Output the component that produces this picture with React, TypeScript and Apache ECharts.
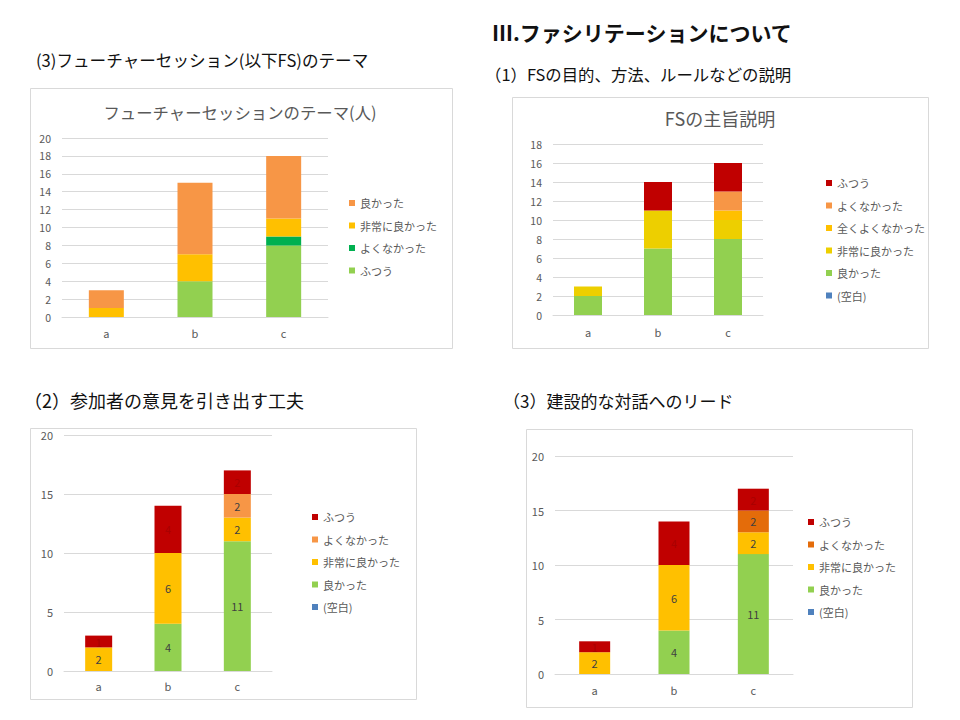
import React, { useEffect, useRef } from "react";
import * as echarts from "echarts";

const categories = ["a", "b", "c"];

// Chart 1: フューチャーセッションのテーマ(人)  (stack order bottom -> top)
const c1Names = ["ふつう", "よくなかった", "非常に良かった", "良かった"];
const c1Futsuu = [0, 4, 8];
const c1Yokunakatta = [0, 0, 1];
const c1Hijouni = [1, 3, 2];
const c1Yokatta = [2, 8, 7];
const c1Legend = ["良かった", "非常に良かった", "よくなかった", "ふつう"];
const c1Ticks = { min: 0, max: 20, interval: 2 };

// Chart 2: FSの主旨説明
const c2Names = ["(空白)", "良かった", "非常に良かった", "全くよくなかった", "よくなかった", "ふつう"];
const c2Kuuhaku = [0, 0, 0];
const c2Yokatta = [2, 7, 8];
const c2Hijouni = [1, 4, 2];
const c2Mattaku = [0, 0, 1];
const c2Yokunakatta = [0, 0, 2];
const c2Futsuu = [0, 3, 3];
const c2Legend = ["ふつう", "よくなかった", "全くよくなかった", "非常に良かった", "良かった", "(空白)"];
const c2Ticks = { min: 0, max: 18, interval: 2 };

// Chart 3 & 4: 参加者の意見を引き出す工夫 / 建設的な対話へのリード
const c34Names = ["(空白)", "良かった", "非常に良かった", "よくなかった", "ふつう"];
const c3Kuuhaku = [0, 0, 0];
const c3Yokatta = [0, 4, 11];
const c3Hijouni = [2, 6, 2];
const c3Yokunakatta = [0, 0, 2];
const c3Futsuu = [1, 4, 2];
const c4Kuuhaku = [0, 0, 0];
const c4Yokatta = [0, 4, 11];
const c4Hijouni = [2, 6, 2];
const c4Yokunakatta = [0, 0, 2];
const c4Futsuu = [1, 4, 2];
const c34Legend = ["ふつう", "よくなかった", "非常に良かった", "良かった", "(空白)"];
const c34Ticks = { min: 0, max: 20, interval: 5 };

const FONT = "'Noto Sans CJK JP', 'Noto Sans', sans-serif";
const AXIS_COLOR = "#595959";
const GRID_COLOR = "#d9d9d9";

const c1Colors: Record<string, string> = {
  "ふつう": "#92D050",
  "よくなかった": "#00B050",
  "非常に良かった": "#FFC000",
  "良かった": "#F79646",
};
const c2Colors: Record<string, string> = {
  "(空白)": "#4F81BD",
  "良かった": "#92D050",
  "非常に良かった": "#EDCF00",
  "全くよくなかった": "#FFC000",
  "よくなかった": "#F79646",
  "ふつう": "#C00000",
};
const c3Colors: Record<string, string> = {
  "(空白)": "#4F81BD",
  "良かった": "#92D050",
  "非常に良かった": "#FFC000",
  "よくなかった": "#F79646",
  "ふつう": "#C00000",
};
const c4Colors: Record<string, string> = {
  "(空白)": "#4F81BD",
  "良かった": "#92D050",
  "非常に良かった": "#FFC000",
  "よくなかった": "#E46C0A",
  "ふつう": "#C00000",
};

function makeSeries(
  idx: number,
  names: string[],
  values: number[][],
  colors: Record<string, string>,
  barWidth: number,
  showLabels: boolean
) {
  return names.map((name, i) => ({
    type: "bar",
    name,
    xAxisIndex: idx,
    yAxisIndex: idx,
    stack: "s" + idx,
    barWidth,
    data: values[i],
    itemStyle: { color: colors[name] },
    label: {
      show: showLabels,
      position: "inside",
      fontFamily: FONT,
      fontSize: 11,
      color: name === "ふつう" ? "#a80000" : "#404040",
      formatter: (p: any) => (p.value ? String(p.value) : ""),
    },
  }));
}

function makeGrid(left: number, top: number, width: number, height: number) {
  return { left, top, width, height, containLabel: false };
}

function makeX(idx: number, margin: number) {
  return {
    type: "category",
    gridIndex: idx,
    data: categories,
    axisLine: { lineStyle: { color: GRID_COLOR } },
    axisTick: { show: false },
    axisLabel: { color: AXIS_COLOR, fontSize: 11, fontFamily: FONT, margin },
  };
}

function makeY(idx: number, t: { min: number; max: number; interval: number }, fontSize: number) {
  return {
    type: "value",
    gridIndex: idx,
    min: t.min,
    max: t.max,
    interval: t.interval,
    axisLine: { show: false },
    axisTick: { show: false },
    splitLine: { lineStyle: { color: GRID_COLOR } },
    axisLabel: { color: AXIS_COLOR, fontSize, fontFamily: FONT, margin: 11 },
  };
}

function makeLegend(names: string[], colors: Record<string, string>, left: number, top: number) {
  return {
    orient: "vertical",
    left,
    top,
    icon: "rect",
    itemWidth: 6,
    itemHeight: 6,
    itemGap: 10.5,
    selectedMode: false,
    padding: 0,
    textStyle: { color: AXIS_COLOR, fontSize: 11, fontFamily: FONT, lineHeight: 12 },
    data: names.map((n) => ({ name: n, itemStyle: { color: colors[n] } })),
  };
}

function txt(text: string, x: number, y: number, fontSize: number, opts: any = {}) {
  return {
    type: "text",
    x,
    y,
    silent: true,
    style: {
      text,
      fontSize,
      fontFamily: FONT,
      fill: opts.fill || "#111",
      fontWeight: opts.bold ? "bold" : "normal",
      textAlign: opts.align || "left",
      textVerticalAlign: "middle",
    },
  };
}

function box(x: number, y: number, w: number, h: number) {
  return {
    type: "rect",
    silent: true,
    shape: { x: x + 0.5, y: y + 0.5, width: w, height: h },
    style: { fill: "none", stroke: "#d9d9d9", lineWidth: 1 },
  };
}

export default function App() {
  const ref = useRef<HTMLDivElement>(null);

  useEffect(() => {
    if (!ref.current) return;
    const chart = echarts.init(ref.current, undefined, { renderer: "svg" });

    const series = [
      ...makeSeries(0, c1Names, [c1Futsuu, c1Yokunakatta, c1Hijouni, c1Yokatta], c1Colors, 35, false),
      ...makeSeries(
        1,
        c2Names,
        [c2Kuuhaku, c2Yokatta, c2Hijouni, c2Mattaku, c2Yokunakatta, c2Futsuu],
        c2Colors,
        28,
        false
      ),
      ...makeSeries(2, c34Names, [c3Kuuhaku, c3Yokatta, c3Hijouni, c3Yokunakatta, c3Futsuu], c3Colors, 27, true),
      ...makeSeries(3, c34Names, [c4Kuuhaku, c4Yokatta, c4Hijouni, c4Yokunakatta, c4Futsuu], c4Colors, 31, true),
    ];

    chart.setOption({
      animation: false,
      backgroundColor: "#ffffff",
      textStyle: { fontFamily: FONT },
      grid: [
        makeGrid(62, 138, 266, 179),
        makeGrid(553, 144, 210, 171),
        makeGrid(64, 435, 208, 236),
        makeGrid(555, 456, 238, 218),
      ],
      xAxis: [makeX(0, 10), makeX(1, 11), makeX(2, 9), makeX(3, 10)],
      yAxis: [
        makeY(0, c1Ticks, 10.5),
        makeY(1, c2Ticks, 10.5),
        makeY(2, c34Ticks, 11),
        makeY(3, c34Ticks, 11),
      ],
      legend: [
        makeLegend(c1Legend, c1Colors, 349, 197),
        makeLegend(c2Legend, c2Colors, 826, 177),
        makeLegend(c34Legend, c3Colors, 312, 511),
        makeLegend(c34Legend, c4Colors, 808, 516),
      ],
      graphic: [
        box(30, 88, 422, 260),
        box(512, 97, 416, 251),
        box(30, 428, 386, 271),
        box(526, 429, 386, 278),
        txt("Ⅲ.ファシリテーションについて", 492, 32, 21, { bold: true }),
        txt("(3)フューチャーセッション(以下FS)のテーマ", 36, 60, 16.6),
        txt("（1）FSの目的、方法、ルールなどの説明", 485, 74, 16.4),
        txt("（2）参加者の意見を引き出す工夫", 24, 400, 18),
        txt("（3）建設的な対話へのリード", 503, 400, 17),
        txt("フューチャーセッションのテーマ(人)", 240, 112, 16.4, { fill: AXIS_COLOR, align: "center" }),
        txt("FSの主旨説明", 720, 118, 18, { fill: AXIS_COLOR, align: "center" }),
      ],
      series,
    });

    return () => chart.dispose();
  }, []);

  return (
    <div
      ref={ref}
      style={{ position: "fixed", left: 0, top: 0, width: 960, height: 720, background: "#fff" }}
    />
  );
}
